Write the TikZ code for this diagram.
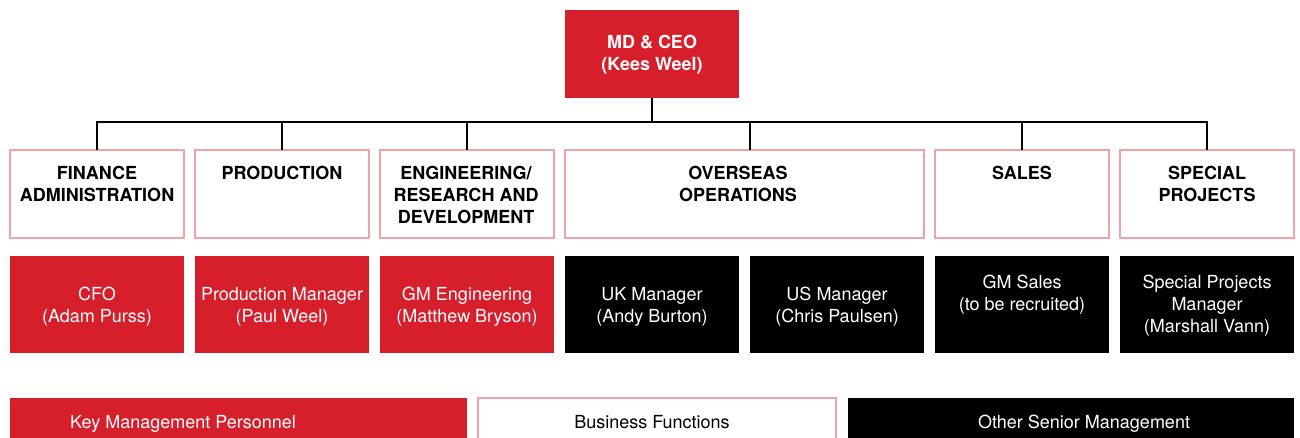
\documentclass[tikz,border=0pt]{standalone}
\usepackage{fontspec}
\setmainfont{TeX Gyre Heros}
\definecolor{kmp}{HTML}{D71F2B}
\definecolor{pinkb}{HTML}{EFA3A8}
\begin{document}
\begin{tikzpicture}[x=1pt,y=-1pt,
  box/.style={rectangle, inner sep=0pt, outer sep=0pt, anchor=north west,
              minimum width=174pt, minimum height=88pt},
  funcbox/.style={box, draw=pinkb, line width=1.1pt, fill=white},
  redbox/.style={box, fill=kmp, minimum height=97pt},
  blkbox/.style={box, fill=black, minimum height=97pt},
  legbox/.style={rectangle, inner sep=0pt, outer sep=0pt, anchor=north west, minimum height=46pt},
  hdr/.style={font=\fontsize{18}{22}\selectfont\bfseries, align=center, anchor=north, inner sep=0pt, text=black},
  lt/.style={font=\fontsize{18}{22}\selectfont, align=center, anchor=north, inner sep=0pt, text=white},
  legtxt/.style={font=\fontsize{18}{22}\selectfont, inner sep=0pt, anchor=base},
  conn/.style={line width=2.4pt, draw=black}
]
\useasboundingbox (0,0) rectangle (1300,438);

% CEO
\node[box, fill=kmp, minimum width=174pt, minimum height=88pt] (ceo) at (565,10) {};
\node[hdr, text=white] at ([yshift=-22.6pt]ceo.north) {\strut MD \& CEO\\(Kees Weel)};

% business functions
\node[funcbox] (fin)   at (10,150) {};
\node[funcbox] (prod)  at (195,150) {};
\node[funcbox] (eng)   at (380,150) {};
\node[funcbox, minimum width=359pt] (ovs) at (565,150) {};
\node[funcbox] (sales) at (935,150) {};
\node[funcbox] (spec)  at (1120,150) {};

\node[hdr] at ([yshift=-13.6pt]fin.north) {\strut FINANCE\\ADMINISTRATION};
\node[hdr] at ([yshift=-13.6pt]prod.north) {\strut PRODUCTION};
\node[hdr] at ([xshift=-1pt,yshift=-13.6pt]eng.north) {\strut ENGINEERING/\\RESEARCH AND\\DEVELOPMENT};
\node[hdr] at ([xshift=-6.5pt,yshift=-13.6pt]ovs.north) {\strut OVERSEAS\\OPERATIONS};
\node[hdr] at ([yshift=-13.6pt]sales.north) {\strut SALES};
\node[hdr] at ([yshift=-13.6pt]spec.north) {\strut SPECIAL\\PROJECTS};

% managers
\node[redbox] (cfo)  at (10,256) {};
\node[redbox] (pm)   at (195,256) {};
\node[redbox] (gme)  at (380,256) {};
\node[blkbox] (uk)   at (565,256) {};
\node[blkbox] (us)   at (750,256) {};
\node[blkbox] (gms)  at (935,256) {};
\node[blkbox] (spm)  at (1120,256) {};

\node[lt] at ([yshift=-28.6pt]cfo.north) {\strut CFO\\(Adam Purss)};
\node[lt] at ([yshift=-28.6pt]pm.north) {\strut Production Manager\\(Paul Weel)};
\node[lt] at ([yshift=-28.6pt]gme.north) {\strut GM Engineering\\(Matthew Bryson)};
\node[lt] at ([yshift=-28.6pt]uk.north) {\strut UK Manager\\(Andy Burton)};
\node[lt] at ([yshift=-28.6pt]us.north) {\strut US Manager\\(Chris Paulsen)};
\node[lt] at ([yshift=-16.6pt]gms.north) {\strut GM Sales\\(to be recruited)};
\node[lt] at ([yshift=-16.6pt]spm.north) {\strut Special Projects\\Manager\\(Marshall Vann)};

% connectors
\coordinate (bus) at (0,122);
\draw[conn] (ceo.south) -- (ceo.south |- bus);
\draw[conn] (fin.north) -- (fin.north |- bus) -- (spec.north |- bus) -- (spec.north);
\draw[conn] (prod.north) -- (prod.north |- bus);
\draw[conn] (eng.north) -- (eng.north |- bus);
\draw[conn] ([xshift=5.5pt]ovs.north) -- ([xshift=5.5pt]ovs.north |- bus);
\draw[conn] (sales.north) -- (sales.north |- bus);

% legend
\node[legbox, fill=kmp, minimum width=457pt] (lkey) at (10,398) {};
\node[legbox, fill=white, draw=pinkb, line width=1.1pt, minimum width=358pt] (lbf) at (478,398) {};
\node[legbox, fill=black, minimum width=446pt] (losm) at (848,398) {};
\node[legtxt, anchor=base west, text=white] at ([xshift=60pt,yshift=-30pt]lkey.north west) {Key Management Personnel};
\node[legtxt, text=black] at ([xshift=-5pt,yshift=-30pt]lbf.north) {Business Functions};
\node[legtxt, text=white] at ([xshift=13pt,yshift=-30pt]losm.north) {Other Senior Management};
\end{tikzpicture}
\end{document}
